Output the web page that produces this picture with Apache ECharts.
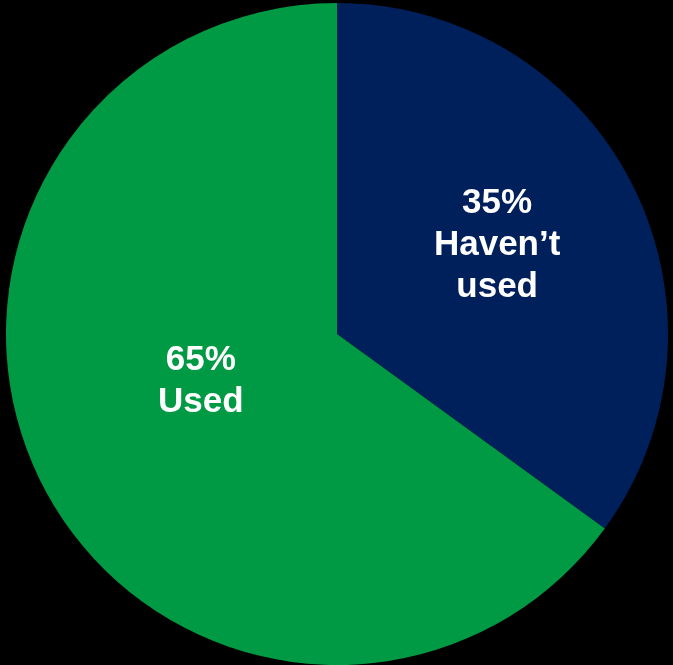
<!DOCTYPE html>
<html>
<head>
<meta charset="utf-8">
<style>
  html, body { margin: 0; padding: 0; background: #000; }
  #chart { width: 673px; height: 665px; }
</style>
<script src="https://cdn.jsdelivr.net/npm/echarts@6/dist/echarts.min.js"></script>
</head>
<body>
<div id="chart"></div>
<script>
// Share of respondents by usage
const categories = ['Haven’t\nused', 'Used'];
const shares = [35, 65];
const sliceColors = ['#00205B', '#009A44'];

// Nudge each label within its slice
const labelShift = [[10, -12], [14, -29]];

const chart = echarts.init(document.getElementById('chart'));
chart.setOption({
  backgroundColor: '#000000',
  animation: false,
  series: [{
    type: 'pie',
    center: [337, 334],
    radius: [0, 331],
    startAngle: 90,
    clockwise: true,
    silent: true,
    data: categories.map((name, i) => ({
      name: name,
      value: shares[i],
      itemStyle: { color: sliceColors[i] }
    })),
    itemStyle: { borderWidth: 0 },
    label: {
      show: true,
      position: 'inside',
      formatter: p => p.value + '%\n' + p.name,
      color: '#ffffff',
      fontFamily: '"Liberation Sans"',
      fontWeight: 'bold',
      fontSize: 35,
      lineHeight: 42,
      align: 'center'
    },
    labelLine: { show: false },
    labelLayout: p => ({ dx: labelShift[p.dataIndex][0], dy: labelShift[p.dataIndex][1] })
  }]
});
</script>
</body>
</html>
